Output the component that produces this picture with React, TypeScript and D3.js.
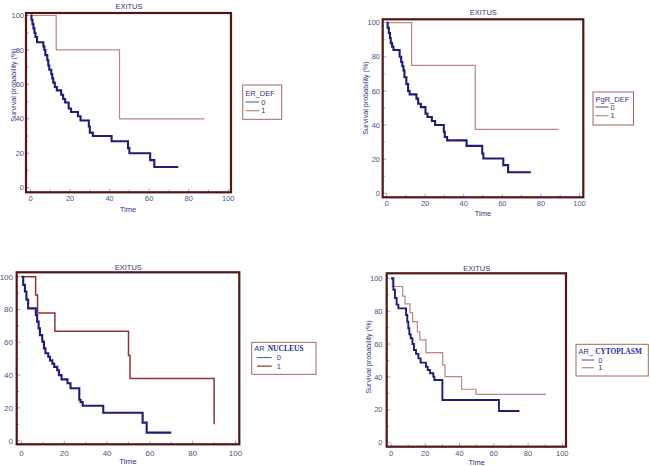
import React from 'react';
import * as d3 from 'd3';

// ---------- DATA ----------
const xTickValues = [0, 20, 40, 60, 80, 100];
const yTickValues = [0, 20, 40, 60, 80, 100];
const minorTickValues = [10, 30, 50, 70, 90];

const chartTitle = 'EXITUS';
const xAxisTitle = 'Time';
const yAxisTitle = 'Survival probability (%)';
const groupLabels = ['0', '1'];

// Panel 1: ER_DEF
const erTime0 = [0, 0.5, 1, 1.5, 2, 2.5, 3.3, 6.5, 7, 7.5, 8.5, 9, 9.5, 10.5, 11, 11.5, 12.3, 13.3, 15.5, 16.5, 17.5, 19.3, 20.5, 24, 25.3, 29.5, 30, 31.5, 41, 49.3, 50, 60.5, 62.6, 74.7];
const erSurv0 = [100, 97.5, 95, 92.5, 90, 87.5, 84.5, 82, 80, 77, 74, 71, 68.5, 66, 63.5, 61, 58.5, 56.5, 54, 51.5, 49.5, 46, 44, 41.5, 39, 35.5, 32, 30, 27, 23, 20, 16, 12, 12];
const erTime1 = [0, 13, 45, 88];
const erSurv1 = [100, 80, 40, 40];

// Panel 2: PgR_DEF
const pgrTime0 = [0, 0.6, 1.2, 1.8, 2.2, 2.9, 3.6, 6.8, 7.6, 8.2, 8.8, 9.3, 10.3, 11.2, 12, 15.5, 16.4, 17.8, 20.2, 21.2, 23.5, 25.2, 29.7, 30.2, 31.4, 41.5, 49.6, 50.2, 60.5, 63, 74.8];
const pgrSurv0 = [100, 97, 94, 91, 88, 86, 84, 80, 77, 74.5, 72, 68, 64, 60, 58, 55.5, 52.5, 50.5, 46.7, 44.7, 42.4, 40, 36, 33, 31, 27.8, 23.3, 20.4, 16.5, 12.3, 12.3];
const pgrTime1 = [0, 13, 46, 89];
const pgrSurv1 = [100, 75, 37.5, 37.5];

// Panel 3: AR NUCLEUS
const arnTime0 = [0, 0.8, 1.6, 2.3, 3.1, 6.7, 7.3, 8, 8.6, 9.7, 10.5, 11.2, 12.5, 13.3, 14.4, 15.3, 16.7, 17.5, 18.7, 21.5, 22.9, 27, 27.6, 28.6, 38.2, 56.6, 58.5, 70];
const arnSurv0 = [100, 95, 91, 86, 80.7, 76.6, 72.6, 68.5, 64.4, 60.4, 56.3, 53.3, 51.2, 49, 47, 45, 43, 40, 37.4, 35, 32, 25, 23.5, 21.3, 17, 11, 4.9, 4.9];
const arnTime1 = [0, 6.6, 7.5, 15.6, 50, 50.7, 90];
const arnSurv1 = [100, 88.9, 77.8, 66.7, 52, 38, 10];

// Panel 4: AR CYTOPLASM
const arcTime0 = [0, 1.4, 2.3, 3.3, 4.3, 8.8, 9.5, 10.1, 10.7, 11.5, 12.5, 13.4, 14.6, 16, 17.3, 20.4, 21.4, 22.8, 24.7, 25.3, 30, 63, 75];
const arcSurv0 = [100, 93, 88, 84, 81.7, 77.7, 73.6, 69.6, 66, 63.5, 60, 56.4, 54, 51.3, 48.7, 46.2, 44.2, 42.2, 40.2, 38.1, 26, 19.3, 19.3];
const arcTime1 = [0, 0.8, 6.8, 8.2, 11.1, 12.6, 15.4, 16.9, 20.4, 30.2, 31.5, 41.2, 49.6, 90.5];
const arcSurv1 = [100, 95, 89.2, 84.4, 79.1, 73.6, 67.5, 62.5, 54.8, 47.3, 40.2, 32.5, 29.4, 29.4];

// ---------- STYLE / LAYOUT ----------
const FONT = 'Liberation Sans, Arial, sans-serif';
const SERIF = 'Liberation Serif, Times New Roman, serif';
const FRAME = '#521414';
const NAVY = '#1d1d78';
const ROSE = '#bb8585';
const MAROON = '#8a3535';
const TICKTXT = '#50508a';
const LABELTXT = '#33337a';
const BOLDBLUE = '#1b2aa6';

type Legend = {
  box: [number, number, number, number];
  title: string;
  bold?: string;
  boldX?: number;
  boldFs?: number;
  titleDy: number;
  lineX: [number, number];
  lineDy: [number, number];
  labelDx: number;
  fs: number;
};

type PanelCfg = {
  frame: [number, number, number, number];
  xr: [number, number];
  yr: [number, number];
  titlePos: [number, number];
  timePos: [number, number];
  ylab?: [number, number];
  tickY: number;
  ytickX: number;
  fs: number;
  t0: number[];
  s0: number[];
  t1: number[];
  s1: number[];
  color1: string;
  w0: number;
  w1: number;
  legend: Legend;
};

const panels: PanelCfg[] = [
  {
    frame: [26, 13, 231, 192.3], xr: [30.5, 228.3], yr: [187.7, 15.5],
    titlePos: [129, 8.5], timePos: [128, 212], ylab: [13, 85], tickY: 201, ytickX: 24, fs: 7.5,
    t0: erTime0, s0: erSurv0, t1: erTime1, s1: erSurv1, color1: ROSE, w0: 2.1, w1: 1.2,
    legend: { box: [242.7, 85, 281.7, 119.3], title: 'ER_DEF', titleDy: 10.5, lineX: [3, 16.5], lineDy: [17, 25.7], labelDx: 18.5, fs: 7.5 },
  },
  {
    frame: [382.7, 19.3, 583.3, 197.3], xr: [386.5, 579.5], yr: [193.3, 22.7],
    titlePos: [483.3, 14.5], timePos: [483, 216], ylab: [365.5, 98], tickY: 205.5, ytickX: 380, fs: 7.5,
    t0: pgrTime0, s0: pgrSurv0, t1: pgrTime1, s1: pgrSurv1, color1: ROSE, w0: 2.1, w1: 1.2,
    legend: { box: [593, 92, 633.5, 125], title: 'PgR_DEF', titleDy: 9.5, lineX: [2.5, 15.5], lineDy: [15, 23.7], labelDx: 17.5, fs: 7.5 },
  },
  {
    frame: [16.7, 272.3, 239.3, 444.3], xr: [21.5, 235.5], yr: [440.7, 276.7],
    titlePos: [128.3, 269.5], timePos: [128, 464], tickY: 455.5, ytickX: 13, fs: 8,
    t0: arnTime0, s0: arnSurv0, t1: arnTime1, s1: arnSurv1, color1: MAROON, w0: 2.1, w1: 1.5,
    legend: { box: [251.7, 342.3, 316, 374.3], title: 'AR', bold: 'NUCLEUS', boldX: 16, boldFs: 7.5, titleDy: 9, lineX: [5.3, 20], lineDy: [15.3, 23.8], labelDx: 25, fs: 7.5 },
  },
  {
    frame: [386.7, 273.3, 566, 446.7], xr: [391, 562.3], yr: [442.7, 278.3],
    titlePos: [476.7, 270.5], timePos: [476.7, 465], ylab: [368.5, 357], tickY: 456, ytickX: 382.5, fs: 7.5,
    t0: arcTime0, s0: arcSurv0, t1: arcTime1, s1: arcSurv1, color1: ROSE, w0: 1.9, w1: 1.2,
    legend: { box: [576, 344.3, 648.3, 376], title: 'AR_', bold: 'CYTOPLASM', boldX: 19.3, boldFs: 7.3, titleDy: 9.5, lineX: [5.7, 18], lineDy: [15.7, 23.4], labelDx: 22.3, fs: 7.5 },
  },
];

function Panel({ p }: { p: PanelCfg }) {
  const x = d3.scaleLinear().domain([0, 100]).range(p.xr);
  const y = d3.scaleLinear().domain([0, 100]).range(p.yr);
  const line = d3
    .line<[number, number]>()
    .x((d) => x(d[0]))
    .y((d) => y(d[1]))
    .curve(d3.curveStepAfter);
  const d0 = line(p.t0.map((t, i) => [t, p.s0[i]] as [number, number])) || '';
  const d1 = line(p.t1.map((t, i) => [t, p.s1[i]] as [number, number])) || '';
  const [fl, ft, fr, fb] = p.frame;
  const lg = p.legend;
  const [bx0, by0, bx1, by1] = lg.box;
  return (
    <g>
      {[...xTickValues, ...minorTickValues].map((v) => (
        <line key={'xt' + v} x1={x(v)} x2={x(v)} y1={fb} y2={fb - (xTickValues.includes(v) ? 3.5 : 2.5)} stroke="#8c8ca8" strokeWidth={0.8} />
      ))}
      {[...yTickValues, ...minorTickValues].map((v) => (
        <line key={'yt' + v} x1={fl} x2={fl + (yTickValues.includes(v) ? 3.5 : 2.5)} y1={y(v)} y2={y(v)} stroke="#8c8ca8" strokeWidth={0.8} />
      ))}
      <path d={d1} fill="none" stroke={p.color1} strokeWidth={p.w1} />
      <path d={d0} fill="none" stroke={NAVY} strokeWidth={p.w0} />
      <rect x={fl} y={ft} width={fr - fl} height={fb - ft} fill="none" stroke={FRAME} strokeWidth={2.2} />
      {xTickValues.map((v) => (
        <text key={'xl' + v} x={x(v)} y={p.tickY} textAnchor="middle" fontSize={p.fs} fontFamily={FONT} fill={TICKTXT}>
          {v}
        </text>
      ))}
      {yTickValues.map((v) => (
        <text key={'yl' + v} x={p.ytickX} y={y(v) + p.fs * 0.35} textAnchor="end" fontSize={p.fs} fontFamily={FONT} fill={TICKTXT}>
          {v}
        </text>
      ))}
      <text x={p.titlePos[0]} y={p.titlePos[1]} textAnchor="middle" fontSize={7.5} fontFamily={FONT} fill={LABELTXT}>
        {chartTitle}
      </text>
      <text x={p.timePos[0]} y={p.timePos[1]} textAnchor="middle" fontSize={p.fs} fontFamily={FONT} fill={LABELTXT}>
        {xAxisTitle}
      </text>
      {p.ylab && (
        <text
          transform={`translate(${p.ylab[0] + 2.5},${p.ylab[1]}) rotate(-90)`}
          textAnchor="middle"
          fontSize={7.2}
          fontFamily={FONT}
          fill={LABELTXT}
        >
          {yAxisTitle}
        </text>
      )}
      <rect x={bx0} y={by0} width={bx1 - bx0} height={by1 - by0} fill="#fff" stroke="#a06868" strokeWidth={1} />
      <text x={bx0 + 2.5} y={by0 + lg.titleDy} fontSize={lg.fs} fontFamily={FONT} fill={LABELTXT}>
        {lg.title}
      </text>
      {lg.bold && (
        <text x={bx0 + (lg.boldX || 0)} y={by0 + lg.titleDy} fontSize={lg.boldFs} fontFamily={SERIF} fontWeight="bold" fill={BOLDBLUE}>
          {lg.bold}
        </text>
      )}
      {[0, 1].map((i) => (
        <g key={'lg' + i}>
          <line
            x1={bx0 + lg.lineX[0]}
            x2={bx0 + lg.lineX[1]}
            y1={by0 + lg.lineDy[i]}
            y2={by0 + lg.lineDy[i]}
            stroke={i === 0 ? NAVY : p.color1}
            strokeWidth={i === 0 ? 0.8 : 1.2}
          />
          <text x={bx0 + lg.labelDx} y={by0 + lg.lineDy[i] + 2.6} fontSize={lg.fs} fontFamily={FONT} fill={LABELTXT}>
            {groupLabels[i]}
          </text>
        </g>
      ))}
    </g>
  );
}

export default function App() {
  return (
    <svg width={650} height={466} style={{ position: 'absolute', left: 0, top: 0, background: '#fff' }}>
      <rect x={0} y={0} width={650} height={466} fill="#fff" />
      {panels.map((p, i) => (
        <Panel key={i} p={p} />
      ))}
    </svg>
  );
}
